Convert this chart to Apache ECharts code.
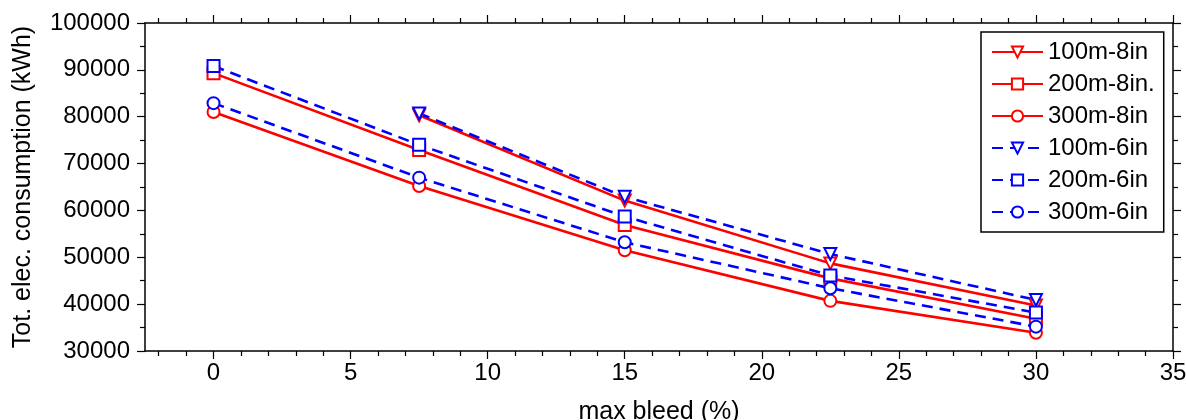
<!DOCTYPE html>
<html>
<head>
<meta charset="utf-8">
<script src="https://cdn.jsdelivr.net/npm/echarts@6/dist/echarts.min.js"></script>
<style>
html,body{margin:0;padding:0;background:#fff;}
#chart{width:1186px;height:420px;}
</style>
</head>
<body>
<div id="chart"></div>
<script>
const bleed = [0, 7.5, 15, 22.5, 30];
const xMajorTicks = [0, 5, 10, 15, 20, 25, 30, 35];
const xMinorTicks = [-2, -1, 1, 2, 3, 4, 6, 7, 8, 9, 11, 12, 13, 14, 16, 17, 18, 19, 21, 22, 23, 24, 26, 27, 28, 29, 31, 32, 33, 34];
const s100_8 = [null, 80300, 62100, 48700, 39700];
const s200_8 = [89300, 72900, 56900, 45500, 36900];
const s300_8 = [81000, 65200, 51500, 40700, 33900];
const s100_6 = [null, 80700, 62900, 50700, 40900];
const s200_6 = [90800, 74000, 58700, 46100, 38200];
const s300_6 = [82900, 67000, 53200, 43400, 35200];
const names = ['100m-8in', '200m-8in.', '300m-8in', '100m-6in', '200m-6in', '300m-6in'];

const FONT = 'Liberation Sans, Arial, sans-serif';
function pairs(vals) {
  return bleed.map((x, i) => [x, vals[i]]).filter(p => p[1] !== null);
}
function mk(name, vals, color, dashed, symbol, rotate) {
  return {
    name: name,
    type: 'line',
    xAxisIndex: 0,
    yAxisIndex: 0,
    data: pairs(vals),
    symbol: symbol,
    symbolSize: 12,
    symbolRotate: rotate,
    showAllSymbol: true,
    lineStyle: { color: color, width: 2.6, type: dashed ? [11, 7] : 'solid' },
    itemStyle: { color: color, borderColor: color, borderWidth: 2.2 },
    emphasis: { disabled: true },
    animation: false
  };
}
function xAx(pos, ticks, len, labels, line) {
  return {
    type: 'value', position: pos, min: -2.5, max: 35,
    axisLine: { show: line, onZero: false, lineStyle: { color: '#000', width: 1.5 } },
    axisTick: { show: true, inside: false, length: len, customValues: ticks, lineStyle: { color: '#000', width: 1.2 } },
    axisLabel: labels ? { show: true, customValues: xMajorTicks, fontSize: 24, color: '#000', fontFamily: FONT, margin: 10 } : { show: false },
    splitLine: { show: false },
    minorTick: { show: false }
  };
}
const xMain = xAx('bottom', xMajorTicks, 8, true, true);
xMain.name = 'max bleed (%)';
xMain.nameLocation = 'middle';
xMain.nameGap = 49;
xMain.nameTextStyle = { fontSize: 25, color: '#000', fontFamily: FONT };

function yAx(pos, labels) {
  const a = {
    type: 'value', position: pos, min: 30000, max: 100000, interval: 10000,
    axisLine: { show: true, onZero: false, lineStyle: { color: '#000', width: 1.5 } },
    axisTick: { show: true, inside: false, length: 8, lineStyle: { color: '#000', width: 1.2 } },
    minorTick: { show: true, splitNumber: 2, length: 5, lineStyle: { color: '#000', width: 1.2 } },
    axisLabel: labels ? { show: true, fontSize: 24, color: '#000', fontFamily: FONT, margin: 15, formatter: v => String(v) } : { show: false },
    splitLine: { show: false }
  };
  if (labels) {
    a.name = 'Tot. elec. consumption (kWh)';
    a.nameLocation = 'middle';
    a.nameRotate = 90;
    a.nameGap = 109;
    a.nameTextStyle = { fontSize: 25, color: '#000', fontFamily: FONT };
  }
  return a;
}

const chart = echarts.init(document.getElementById('chart'), null, { renderer: 'canvas' });
chart.setOption({
  backgroundColor: '#fff',
  animation: false,
  grid: { left: 145, right: 13, top: 23, bottom: 69, containLabel: false, outerBoundsMode: 'none' },
  xAxis: [
    xMain,
    xAx('bottom', xMinorTicks, 5, false, false),
    xAx('top', xMajorTicks, 8, false, true),
    xAx('top', xMinorTicks, 5, false, false)
  ],
  yAxis: [yAx('left', true), yAx('right', false)],
  legend: {
    show: true,
    orient: 'vertical',
    left: 981,
    top: 32,
    padding: [8, 9, 8, 10],
    itemGap: 8,
    itemWidth: 51,
    itemHeight: 14,
    borderColor: '#000',
    borderWidth: 1.5,
    backgroundColor: '#fff',
    textStyle: { fontSize: 24, color: '#000', fontFamily: FONT, padding: [0, 0, 0, 0] },
    data: names,
    selectedMode: false
  },
  series: [
    mk(names[0], s100_8, '#ff0000', false, 'emptyTriangle', 180),
    mk(names[1], s200_8, '#ff0000', false, 'emptyRect', 0),
    mk(names[2], s300_8, '#ff0000', false, 'emptyCircle', 0),
    mk(names[3], s100_6, '#0000ff', true, 'emptyTriangle', 180),
    mk(names[4], s200_6, '#0000ff', true, 'emptyRect', 0),
    mk(names[5], s300_6, '#0000ff', true, 'emptyCircle', 0)
  ]
});
</script>
</body>
</html>
